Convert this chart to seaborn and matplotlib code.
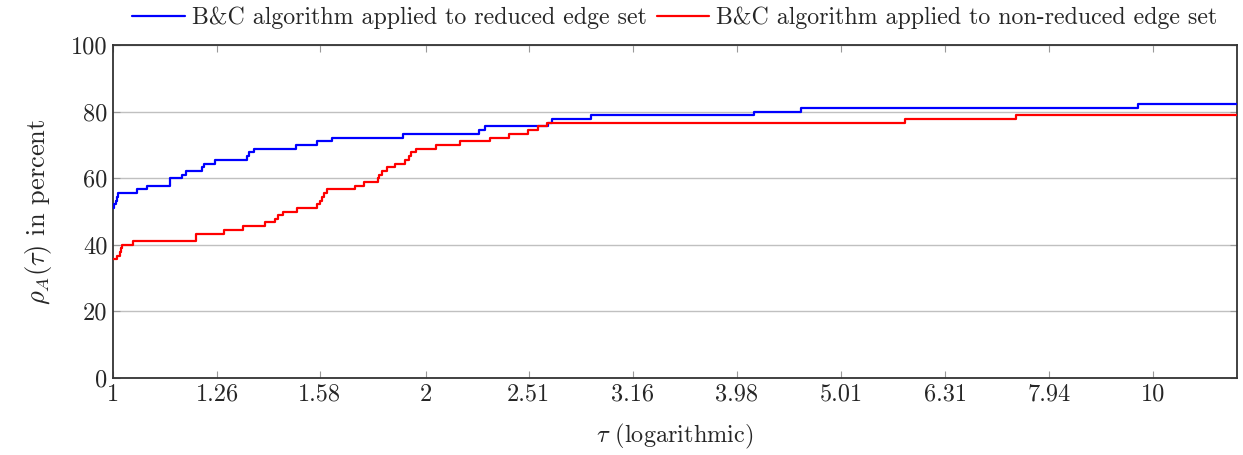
import numpy as np
import pandas as pd
import matplotlib
matplotlib.use("Agg")
import matplotlib.pyplot as plt
import seaborn as sns

# ---- data ----
tau_reduced = [1.0, 1.003, 1.006, 1.009, 1.012, 1.054, 1.079, 1.134, 1.166, 1.176,
               1.217, 1.222, 1.252, 1.345, 1.352, 1.367, 1.500, 1.572, 1.623, 1.902,
               2.250, 2.279, 2.618, 2.641, 2.879, 4.133, 4.590, 9.68, 12.04]
rho_reduced = [51.1, 52.2, 53.3, 54.4, 55.6, 56.7, 57.8, 60.0, 61.1, 62.2,
               63.3, 64.4, 65.6, 66.7, 67.8, 68.9, 70.0, 71.1, 72.2, 73.3,
               74.4, 75.6, 76.7, 77.8, 78.9, 80.0, 81.1, 82.2, 82.2]

tau_nonreduced = [1.0, 1.008, 1.015, 1.017, 1.019, 1.046, 1.201, 1.203, 1.279, 1.332,
                  1.400, 1.431, 1.442, 1.456, 1.502, 1.572, 1.581, 1.587, 1.596, 1.607,
                  1.709, 1.743, 1.797, 1.802, 1.813, 1.836, 1.867, 1.909, 1.927, 1.934,
                  1.956, 2.043, 2.157, 2.305, 2.403, 2.505, 2.564, 2.612, 5.774, 7.389, 12.04]
rho_nonreduced = [35.6, 36.7, 37.8, 38.9, 40.0, 41.1, 42.2, 43.3, 44.4, 45.6,
                  46.7, 47.8, 48.9, 50.0, 51.1, 52.2, 53.3, 54.4, 55.6, 56.7,
                  57.8, 58.9, 60.0, 61.1, 62.2, 63.3, 64.4, 65.6, 66.7, 67.8,
                  68.9, 70.0, 71.1, 72.2, 73.3, 74.4, 75.6, 76.7, 77.8, 78.9, 78.9]

labels = ["B&C algorithm applied to reduced edge set",
          "B&C algorithm applied to non-reduced edge set"]
x_tick_values = [1, 1.26, 1.58, 2, 2.51, 3.16, 3.98, 5.01, 6.31, 7.94, 10]
x_tick_labels = ["1", "1.26", "1.58", "2", "2.51", "3.16", "3.98", "5.01", "6.31", "7.94", "10"]
y_ticks = [0, 20, 40, 60, 80, 100]

sns.set_theme(style="white")
plt.rcParams["font.family"] = ["cmr10", "DejaVu Serif"]
plt.rcParams["mathtext.fontset"] = "cm"
plt.rcParams["axes.formatter.use_mathtext"] = True

fig = plt.figure(figsize=(12.43, 4.55), dpi=100)
ax = fig.add_axes([113 / 1243, 1 - 378 / 455, (1237 - 113) / 1243, (378 - 45) / 455])

df1 = pd.DataFrame({"tau": tau_reduced, "rho": rho_reduced})
df2 = pd.DataFrame({"tau": tau_nonreduced, "rho": rho_nonreduced})
sns.lineplot(data=df1, x="tau", y="rho", ax=ax, color="#0000ff", lw=1.6,
             drawstyle="steps-post", estimator=None, label=labels[0], zorder=3)
sns.lineplot(data=df2, x="tau", y="rho", ax=ax, color="#ff0000", lw=1.6,
             drawstyle="steps-post", estimator=None, label=labels[1], zorder=3)

ax.set_xscale("log")
ax.set_xlim(1, 12.04)
ax.set_ylim(0, 100)
ax.set_xticks(x_tick_values)
ax.set_xticklabels(x_tick_labels)
ax.xaxis.set_minor_locator(matplotlib.ticker.NullLocator())
ax.set_yticks(y_ticks)
ax.set_yticklabels([str(v) for v in y_ticks])

ax.yaxis.grid(True, color="#c0c0c0", lw=1.0)
ax.xaxis.grid(False)
ax.tick_params(axis="both", which="major", direction="in", length=5, width=0.8,
               color="#999999", labelsize=17.5, pad=4,
               top=True, right=True, bottom=True, left=True)
for s in ax.spines.values():
    s.set_color("#333333")
    s.set_linewidth(1.3)

ax.set_xlabel(r"$\tau$ (logarithmic)", fontsize=17.5, labelpad=12)
ax.set_ylabel(r"$\rho_A(\tau)$ in percent", fontsize=19, labelpad=12)

ax.legend(loc="center", bbox_to_anchor=(0.5, 1 + 27 / 333), ncol=2, frameon=False,
          fontsize=17.2, handlelength=2.2, handletextpad=0.3, columnspacing=0.4,
          borderaxespad=0)

fig.savefig("out.png", dpi=100)
